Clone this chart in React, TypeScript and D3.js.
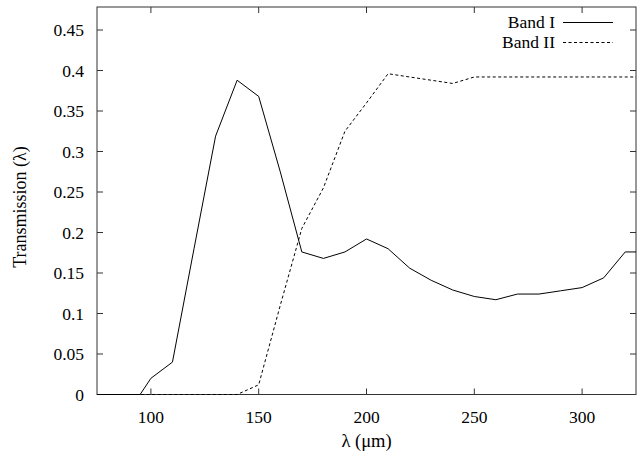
import React from "react";
import * as d3 from "d3";

const bandIX = [70, 95, 100, 110, 120, 130, 140, 150, 160, 170, 180, 190, 200, 210, 220, 230, 240, 250, 260, 270, 280, 290, 300, 310, 320, 330];
const bandIY = [0, 0, 0.02, 0.04, 0.18, 0.319, 0.388, 0.368, 0.275, 0.176, 0.168, 0.176, 0.192, 0.18, 0.156, 0.141, 0.129, 0.121, 0.117, 0.124, 0.124, 0.128, 0.132, 0.144, 0.176, 0.176];
const bandIIX = [70, 140, 150, 160, 170, 180, 190, 200, 210, 220, 230, 240, 250, 260, 270, 280, 290, 300, 310, 320, 330];
const bandIIY = [0, 0, 0.012, 0.11, 0.205, 0.255, 0.325, 0.36, 0.396, 0.392, 0.388, 0.384, 0.392, 0.392, 0.392, 0.392, 0.392, 0.392, 0.392, 0.392, 0.392];
const xTicks = [100, 150, 200, 250, 300];
const yTicks = [0, 0.05, 0.1, 0.15, 0.2, 0.25, 0.3, 0.35, 0.4, 0.45];
const yTickLabels = ["0", "0.05", "0.1", "0.15", "0.2", "0.25", "0.3", "0.35", "0.4", "0.45"];
const seriesNames = ["Band I", "Band II"];

const W = 638, H = 453;
const L = 97, R = 636, T = 7, B = 394.5;
const font = "Liberation Serif, Times New Roman, serif";
const ts: React.CSSProperties = { fontFamily: font, fontSize: "17.5px" };

export default function App() {
  const x = d3.scaleLinear().domain([75, 325]).range([L, R]);
  const y = d3.scaleLinear().domain([0, 0.48]).range([B, B - 0.48 * 810]);
  const line = d3.line<[number, number]>().x(d => x(d[0])).y(d => y(d[1]));
  const d1 = line(bandIX.map((v, i) => [v, bandIY[i]]) as [number, number][]) || "";
  const d2 = line(bandIIX.map((v, i) => [v, bandIIY[i]]) as [number, number][]) || "";
  const tk = 6;
  return (
    <svg width={W} height={H} style={{ position: "absolute", left: 0, top: 0, background: "#fff" }}>
      <defs>
        <clipPath id="plot"><rect x={L} y={T} width={R - L} height={B - T + 1} /></clipPath>
      </defs>
      <g stroke="#333" strokeWidth={1}>
        {yTicks.map(t => (
          <g key={"y" + t}>
            <line x1={L} x2={L + tk} y1={y(t)} y2={y(t)} />
            <line x1={R} x2={R - tk} y1={y(t)} y2={y(t)} />
          </g>
        ))}
        {xTicks.map(t => (
          <g key={"x" + t}>
            <line x1={x(t)} x2={x(t)} y1={B} y2={B - tk} />
            <line x1={x(t)} x2={x(t)} y1={T} y2={T + tk} />
          </g>
        ))}
        <rect x={L} y={T} width={R - L} height={B - T} fill="none" />
      </g>
      <g clipPath="url(#plot)" fill="none" stroke="#000" strokeWidth={1}>
        <path d={d1} />
        <path d={d2} strokeDasharray="3,2.5" />
      </g>
      <g fill="#000">
        {yTicks.map((t, i) => (
          <text key={"yl" + t} style={ts} x={L - 13} y={y(t)} textAnchor="end" dominantBaseline="central">{yTickLabels[i]}</text>
        ))}
        {xTicks.map(t => (
          <text key={"xl" + t} style={ts} x={x(t)} y={417} textAnchor="middle" dominantBaseline="central">{t}</text>
        ))}
        <text style={{ fontFamily: font, fontSize: "18.5px" }} x={(L + R) / 2} y={441} textAnchor="middle" dominantBaseline="central">λ (μm)</text>
        <text style={{ fontFamily: font, fontSize: "18px" }} transform={`translate(20,207) rotate(-90)`} textAnchor="middle" dominantBaseline="central">Transmission (λ)</text>
        <text style={ts} x={555} y={21.7} textAnchor="end" dominantBaseline="central">{seriesNames[0]}</text>
        <text style={ts} x={555} y={41.7} textAnchor="end" dominantBaseline="central">{seriesNames[1]}</text>
      </g>
      <g stroke="#000" strokeWidth={1}>
        <line x1={563} x2={613} y1={22.5} y2={22.5} />
        <line x1={563} x2={613} y1={42.5} y2={42.5} strokeDasharray="3,2.5" />
      </g>
    </svg>
  );
}
